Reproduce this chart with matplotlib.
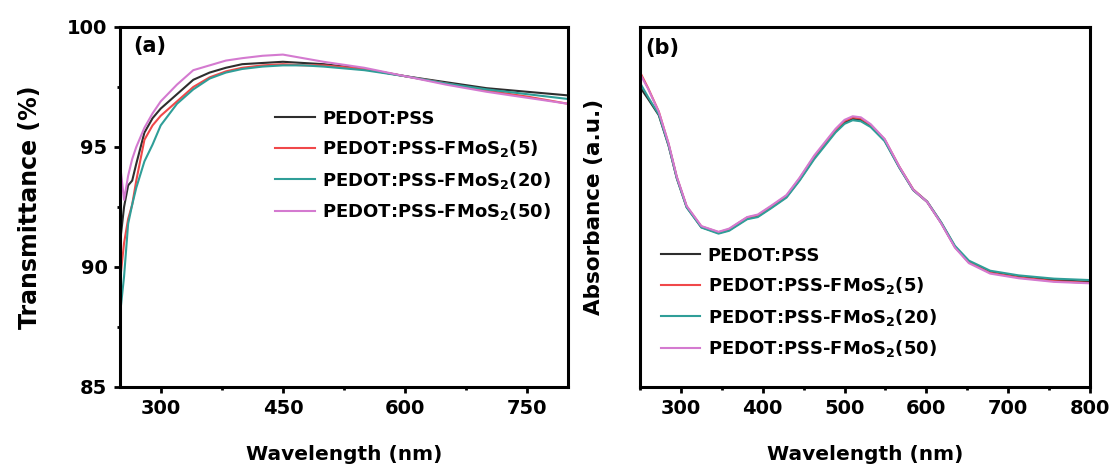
import matplotlib.pyplot as plt
import matplotlib.ticker as mticker

plt.rcParams['font.family'] = 'DejaVu Sans'
plt.rcParams['font.weight'] = 'bold'
plt.rcParams['mathtext.default'] = 'bf'

labels = ['PEDOT:PSS', r'PEDOT:PSS-FMoS$_\mathbf{2}$(5)',
          r'PEDOT:PSS-FMoS$_\mathbf{2}$(20)', r'PEDOT:PSS-FMoS$_\mathbf{2}$(50)']
colors = ['#2e2e2e', '#f0484a', '#2f9e98', '#d47ad0']

# (a) transmittance
wl_a = [250, 255, 260, 265, 270, 280, 290, 300, 320, 340, 360, 380, 400,
        425, 450, 475, 500, 550, 600, 650, 700, 750, 800]
t_pss = [91.0, 92.5, 93.4, 93.6, 94.3, 95.6, 96.2, 96.6, 97.2, 97.8, 98.1, 98.3, 98.45,
         98.5, 98.55, 98.5, 98.45, 98.25, 97.95, 97.7, 97.45, 97.3, 97.15]
t_5 = [89.4, 91.0, 92.0, 92.6, 93.6, 95.3, 95.9, 96.3, 96.9, 97.5, 97.9, 98.15, 98.3,
       98.4, 98.45, 98.4, 98.4, 98.25, 97.95, 97.65, 97.35, 97.1, 96.8]
t_20 = [88.0, 89.6, 91.8, 92.6, 93.3, 94.4, 95.1, 95.9, 96.8, 97.4, 97.85, 98.1, 98.25,
        98.35, 98.4, 98.4, 98.35, 98.2, 97.95, 97.65, 97.4, 97.2, 97.0]
t_50 = [94.3, 92.8, 93.8, 94.5, 95.0, 95.8, 96.4, 96.9, 97.6, 98.2, 98.4, 98.6, 98.7,
        98.8, 98.85, 98.7, 98.55, 98.3, 97.95, 97.6, 97.3, 97.05, 96.8]

# (b) absorbance
wl_b = [250, 260, 273, 285, 295, 307, 325, 346, 359, 370, 381, 394, 410, 429, 445,
        463, 489, 500, 510, 520, 532, 549, 567, 584, 601, 618, 635, 652, 678, 713, 756, 800]
a_pss = [0.833, 0.800, 0.755, 0.670, 0.580, 0.500, 0.444, 0.428, 0.436, 0.452, 0.468,
         0.474, 0.498, 0.528, 0.575, 0.636, 0.710, 0.735, 0.745, 0.742, 0.725, 0.685,
         0.610, 0.547, 0.514, 0.456, 0.389, 0.347, 0.319, 0.306, 0.297, 0.292]
a_5 = [0.875, 0.830, 0.765, 0.675, 0.583, 0.502, 0.446, 0.430, 0.438, 0.455, 0.471,
       0.477, 0.501, 0.531, 0.579, 0.640, 0.714, 0.739, 0.749, 0.746, 0.728, 0.688,
       0.612, 0.549, 0.515, 0.457, 0.389, 0.346, 0.317, 0.304, 0.294, 0.289]
a_20 = [0.845, 0.805, 0.757, 0.671, 0.580, 0.499, 0.443, 0.426, 0.434, 0.450, 0.466,
        0.472, 0.496, 0.526, 0.573, 0.633, 0.707, 0.731, 0.741, 0.738, 0.722, 0.683,
        0.609, 0.547, 0.515, 0.458, 0.392, 0.351, 0.323, 0.310, 0.301, 0.297]
a_50 = [0.870, 0.828, 0.764, 0.676, 0.584, 0.503, 0.447, 0.431, 0.440, 0.456, 0.472,
        0.479, 0.503, 0.533, 0.581, 0.643, 0.717, 0.742, 0.752, 0.749, 0.730, 0.689,
        0.612, 0.548, 0.514, 0.455, 0.387, 0.344, 0.315, 0.302, 0.292, 0.288]

fig = plt.figure(figsize=(11.13, 4.7), dpi=100)
ax1 = fig.add_axes([0.1078, 0.1766, 0.4025, 0.766])
ax2 = fig.add_axes([0.575, 0.1766, 0.4043, 0.766])

for y, c, lab in zip([t_pss, t_5, t_20, t_50], colors, labels):
    ax1.plot(wl_a, y, color=c, lw=1.5, label=lab)
for y, c, lab in zip([a_pss, a_5, a_20, a_50], colors, labels):
    ax2.plot(wl_b, y, color=c, lw=1.5, label=lab)

for ax in (ax1, ax2):
    ax.set_xlim(250, 800)
    for s in ax.spines.values():
        s.set_linewidth(2.2)
    ax.tick_params(which='major', direction='out', length=4, width=2, labelsize=14, pad=5)
    ax.tick_params(which='minor', direction='out', length=2.5, width=2)
    ax.set_xlabel('Wavelength (nm)', fontsize=14.5, fontweight='bold', labelpad=19)

ax1.set_ylim(85, 100)
ax1.xaxis.set_major_locator(mticker.FixedLocator([300, 450, 600, 750]))
ax1.xaxis.set_minor_locator(mticker.FixedLocator([375, 525, 675]))
ax1.yaxis.set_major_locator(mticker.MultipleLocator(5))
ax1.yaxis.set_minor_locator(mticker.MultipleLocator(2.5))
ax1.set_ylabel('Transmittance (%)', fontsize=17, fontweight='bold', labelpad=18)
ax1.text(0.03, 0.975, '(a)', transform=ax1.transAxes, fontsize=15, fontweight='bold',
         va='top', ha='left')
ax1.legend(loc='upper left', bbox_to_anchor=(0.33, 0.79), frameon=False, fontsize=13,
           handlelength=2.2, handletextpad=0.4, labelspacing=0.58, borderaxespad=0)

ax2.set_ylim(0, 1)
ax2.xaxis.set_major_locator(mticker.MultipleLocator(100))
ax2.xaxis.set_minor_locator(mticker.MultipleLocator(50))
ax2.set_yticks([])
ax2.set_ylabel('Absorbance (a.u.)', fontsize=15.5, fontweight='bold', labelpad=26)
ax2.text(0.012, 0.97, '(b)', transform=ax2.transAxes, fontsize=15, fontweight='bold',
         va='top', ha='left')
ax2.legend(loc='upper left', bbox_to_anchor=(0.03, 0.41), frameon=False, fontsize=13,
           handlelength=2.2, handletextpad=0.4, labelspacing=0.58, borderaxespad=0)

fig.savefig('out.png', dpi=100)
